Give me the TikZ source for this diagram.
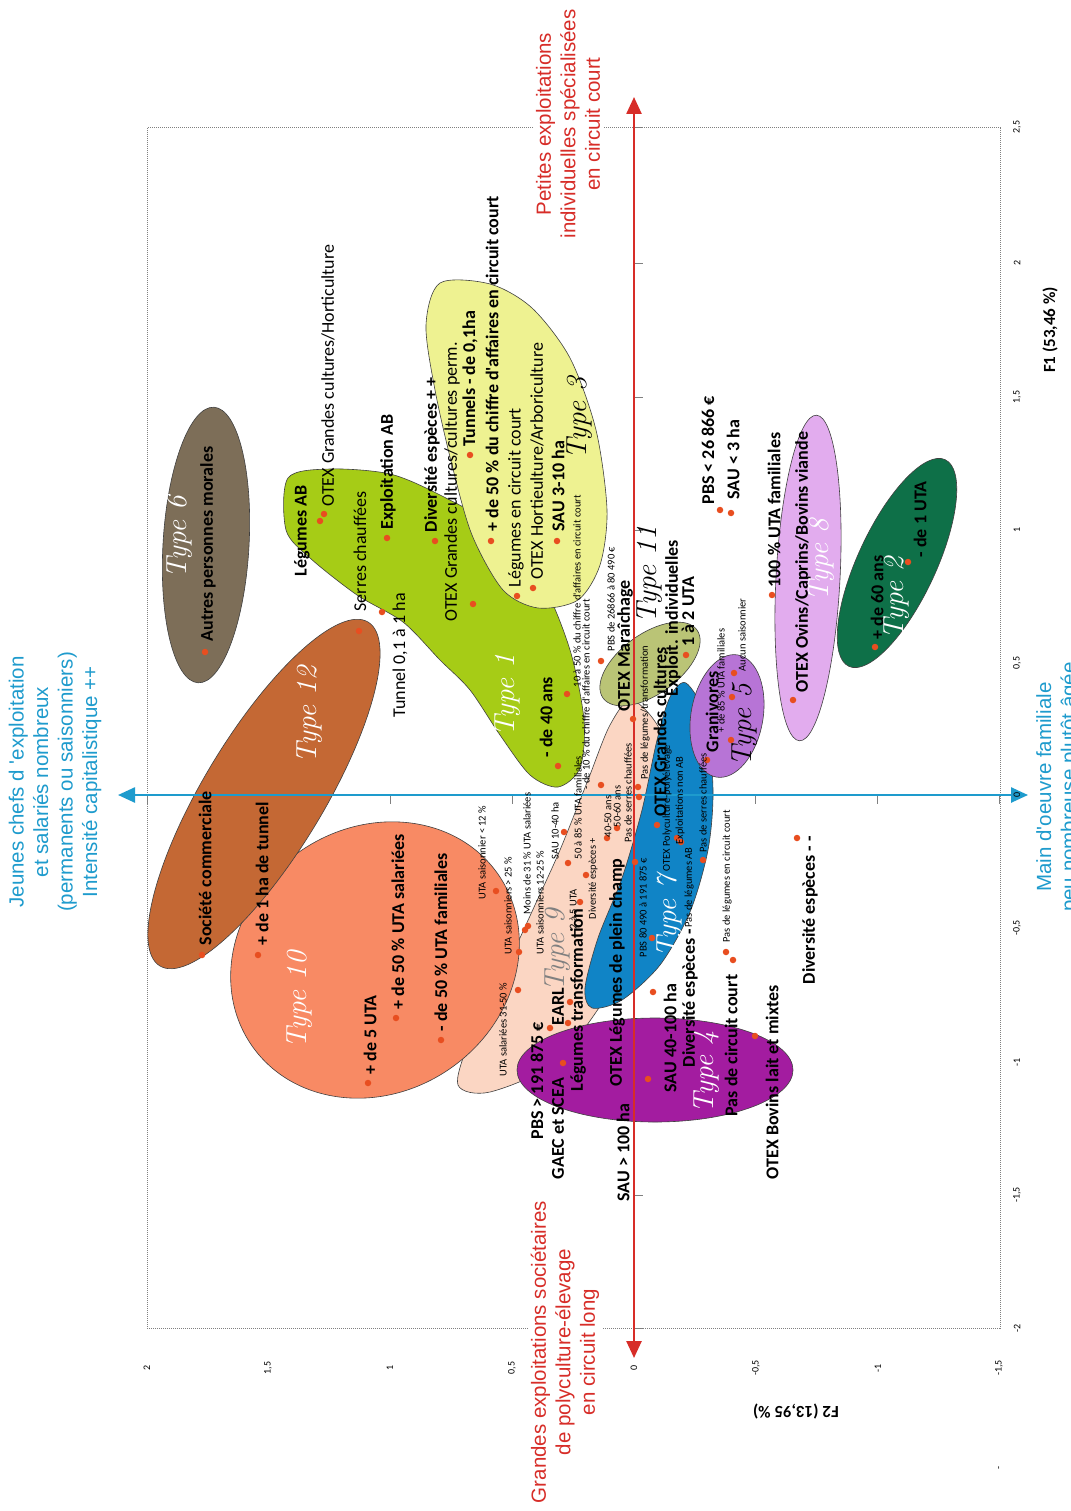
\documentclass[tikz,border=0pt]{standalone}
\usepackage{fontspec}
\usetikzlibrary{arrows.meta}
\newfontfamily\calib{Carlito}
\newfontfamily\arialf{Liberation Sans}
\definecolor{ty6}{RGB}{125,110,88}
\definecolor{ty12}{RGB}{196,104,52}
\definecolor{ty10}{RGB}{248,138,100}
\definecolor{ty9}{RGB}{251,214,195}
\definecolor{ty1}{RGB}{166,204,22}
\definecolor{ty3}{RGB}{238,242,145}
\definecolor{ty11}{RGB}{186,196,118}
\definecolor{ty7}{RGB}{16,132,198}
\definecolor{ty5}{RGB}{183,116,214}
\definecolor{ty4}{RGB}{163,28,160}
\definecolor{ty8}{RGB}{226,172,238}
\definecolor{ty2}{RGB}{14,112,72}
\definecolor{dotred}{RGB}{232,78,32}
\definecolor{axred}{RGB}{215,45,40}
\definecolor{axblue}{RGB}{30,155,205}

\tikzset{
  zone/.style={draw=black!75, line width=0.6pt},
  dotm/.style={circle, fill=dotred, inner sep=0pt, minimum size=6.5pt},
  blab/.style={rotate=90, anchor=west, inner sep=0.5pt, font=\calib\bfseries\fontsize{18}{20}\selectfont},
  rlab/.style={rotate=90, anchor=west, inner sep=0.5pt, font=\calib\fontsize{18}{20}\selectfont},
  slab/.style={rotate=90, anchor=west, inner sep=0.5pt, font=\calib\fontsize{10.5}{12}\selectfont},
  typelab/.style={rotate=90, font=\itshape\fontsize{29}{31}\selectfont},
  note/.style={rotate=90, align=center, fill=white, inner sep=3pt, font=\arialf\fontsize{20.5}{24.5}\selectfont},
  tickl/.style={rotate=90, font=\calib\fontsize{10}{12}\selectfont},
  axtitle/.style={font=\calib\bfseries\fontsize{17}{19}\selectfont},
  axline/.style={line width=2.5pt, arrows={Triangle[length=17pt,width=15pt]-Triangle[length=17pt,width=15pt]}},
}

\begin{document}
\begin{tikzpicture}[x=1pt, y=-1pt]
\useasboundingbox[fill=white] (0,0) rectangle (1070,1511);

% plot area and ticks
\draw[gray, densely dotted, line width=1pt] (147,128) rectangle (1000,1328);
\foreach \xx in {147,268.75,390.5,512.25,755.75,877.5,999.25}
  \draw[gray, line width=0.8pt] (\xx,795) -- (\xx,804);
\foreach \yy in {127,263,397,530,663,928,1062,1195,1328}
  \draw[gray, line width=0.8pt] (634,\yy) -- (643,\yy);

% groups
\draw[zone, fill=ty6, rotate around={86.7:(206,545)}] (206,545) ellipse [x radius=138, y radius=43];
\draw[zone, fill=ty9] plot[smooth cycle] coordinates {(632,700) (662,735) (668,810) (648,900) (610,990) (555,1062) (490,1092) (458,1085) (470,1040) (505,970) (535,905) (560,850) (588,780) (610,725)};
\draw[zone, fill=ty10, rotate around={35:(375,960)}] (375,960) ellipse [x radius=150, y radius=132];
\draw[zone, fill=ty12, rotate around={58.8:(264,794)}] (264,794) ellipse [x radius=201, y radius=60];
\draw[zone, fill=ty1] plot[smooth cycle] coordinates {(288,478) (330,469) (390,474) (440,495) (500,530) (542,582) (570,650) (584,720) (580,768) (558,787) (530,775) (500,735) (470,690) (440,660) (403,622) (357,595) (310,558) (286,530)};
\draw[zone, fill=ty3] plot[smooth cycle] coordinates {(440,283) (490,284) (532,308) (570,358) (596,430) (607,510) (600,565) (578,600) (538,608) (503,590) (472,535) (452,465) (435,390) (426,325)};
\draw[zone, fill=ty7] plot[smooth cycle] coordinates {(686,683) (706,718) (713,790) (708,850) (690,912) (660,965) (622,1000) (592,1008) (585,988) (598,938) (622,878) (642,810) (657,740) (670,697)};
\draw[zone, fill=ty11, rotate around={36:(650,664)}] (650,664) ellipse [x radius=58, y radius=30];
\draw[zone, fill=ty5, rotate around={80:(727,716)}] (727,716) ellipse [x radius=62, y radius=36];
\draw[zone, fill=ty4] (655,1070) ellipse [x radius=138, y radius=52];
\draw[zone, fill=ty8, rotate around={87:(808,578)}] (808,578) ellipse [x radius=163, y radius=32];
\draw[zone, fill=ty2, rotate around={65:(897,563)}] (897,563) ellipse [x radius=114, y radius=39];

% axes
\coordinate (bleft) at (118,795);
\coordinate (bright) at (1028,795);
\coordinate (rtop) at (634,97);
\coordinate (rbot) at (634,1358);
\draw[axline, axblue] (bleft) -- (bright);
\draw[axline, axred] (rbot) -- (rtop);

% modalities
\foreach \p [count=\i] in {(205,652), (202,955), (258,955), (359,631), (368,1083), (396,1018), (441,1040), (320,521), (324,514), (382,612), (387,538), (435,541), (473,604), (558,766), (470,455), (491,541), (517,596), (533,588), (557,541), (567,694), (568,863), (601,661), (633,719), (638,787), (657,825), (686,655), (677,838), (681,842), (703,860), (652,938), (635,862), (726,952), (733,960), (797,838), (496,891), (519,952), (525,930), (528,926), (564,832), (580,902), (586,875), (607,838), (617,828), (601,785), (639,797), (518,990), (570,1002), (568,1023), (550,1028), (563,1063), (648,1079), (653,992), (755,1036), (707,760), (731,740), (732,697), (734,673), (772,595), (793,700), (875,647), (908,562), (720,510), (731,513)}
  \node[dotm] (d\i) at \p {};

% type 6, 12, 10
\node[blab] (autres) at (208,642) {Autres personnes morales};
\node[blab] (societe) at (205,946) {Société commerciale};
\node[blab] (tunnelplus) at (262,946) {+ de 1 ha de tunnel};
\node[blab] (cinquta) at (370,1075) {+ de 5 UTA};
\node[blab] (salplus) at (398,1010) {+ de 50 \% UTA salariées};
\node[blab] (fammoins) at (441,1032) {- de 50 \% UTA familiales};

% type 1
\node[blab] (legab) at (302,577) {Légumes AB};
\node[rlab] (otexhorti) at (328,507) {OTEX Grandes cultures/Horticulture};
\node[rlab] (serres) at (360,612) {Serres chauffées};
\node[rlab] (tunnelun) at (400,718) {Tunnel 0,1 à 1 ha};
\node[blab] (exploitab) at (388,530) {Exploitation AB};
\node[blab] (diverplus) at (432,533) {Diversité espèces + +};
\node[rlab] (otexperm) at (452,622) {OTEX Grandes cultures/cultures perm.};
\node[blab] (quarante) at (546,758) {- de 40 ans};

% type 3
\node[blab] (tunnels) at (470,447) {Tunnels - de 0,1ha};
\node[blab] (caplus) at (492,532) {+ de 50 \% du chiffre d'affaires en circuit court};
\node[rlab] (legcc) at (516,588) {Légumes en circuit court};
\node[rlab] (otexarbo) at (537,580) {OTEX Hortieulture/Arboriculture};
\node[blab] (sautrois) at (558,532) {SAU 3-10 ha};

% centre
\node[slab] (camoyen) at (577,688) {10 à 50 \% du chiffre d'affaires en circuit court};
\node[slab] (camoins) at (586,790) {- de 10 \% du chiffre d'affaires en circuit court};
\node[slab] (famcinq) at (578,860) {50 à 85 \% UTA familiales};
\node[slab] (pbsmoyen) at (611,652) {PBS de 26866 à 80 490 €};
\node[blab] (maraich) at (625,712) {OTEX Maraîchage};
\node[slab] (pastransfo) at (645,780) {Pas de légumes/transformation};
\node[blab] (otexgc) at (660,817) {OTEX Grandes cultures};
\node[blab] (indiv) at (673,697) {Exploit. individuelles};
\node[blab] (undeux) at (688,647) {1 à 2 UTA};
\node[slab] (polyel) at (667,872) {OTEX Polyculture-polyélevage};
\node[slab] (nonab) at (680,845) {Exploitations non AB};
\node[slab] (passerresb) at (703,853) {Pas de serres chauffées};
\node[slab] (paslegab) at (689,928) {Pas de légumes AB};
\node[blab] (divermoins) at (690,1068) {Diversité espèces -};
\node[slab] (pbsgrand) at (643,958) {PBS 80 490 à 191 875 €};
\node[slab] (paslegcc) at (727,943) {Pas de légumes en circuit court};
\node[blab] (divermm) at (810,985) {Diversité espèces - -};
\node[slab] (saisdouze) at (482,900) {UTA saisonnier < 12 \%};
\node[slab] (saisvingt) at (508,955) {UTA saisonniers > 25 \%};
\node[slab] (moinstrente) at (527,915) {Moins de 31 \% UTA salariées};
\node[slab] (saismoyen) at (540,955) {UTA saisonniers 12-25 \%};
\node[slab] (saudix) at (555,860) {SAU 10-40 ha};
\node[slab] (deuxcinq) at (573,930) {2 à 5 UTA};
\node[slab] (diverpetit) at (593,920) {Diversité espèces +};
\node[slab] (ansquarante) at (608,838) {40-50 ans};
\node[slab] (anscinquante) at (617,828) {50-60 ans};
\node[slab] (passerresp) at (628,843) {Pas de serres chauffées};
\node[slab] (salmoyen) at (503,1077) {UTA salariées 31-50 \%};
\node[blab] (pleinchamp) at (617,1087) {OTEX Légumes de plein champ};
\node[blab] (legtransfo) at (578,1092) {Légumes transformation};
\node[blab] (earl) at (558,1026) {EARL};
\node[blab] (pbsplus) at (537,1140) {PBS > 191 875 €};
\node[blab] (gaec) at (558,1180) {GAEC et SCEA};
\node[blab] (saucent) at (623,1202) {SAU > 100 ha};
\node[blab] (saumoyen) at (670,1093) {SAU 40-100 ha};
\node[blab] (pascc) at (731,1117) {Pas de circuit court};
\node[blab] (bovlait) at (772,1180) {OTEX Bovins lait et mixtes};

% type 5, 8, 2
\node[blab] (grani) at (712,753) {Granivores};
\node[slab] (famhuit) at (721,733) {+ de 85 \% UTA familiales};
\node[slab] (aucun) at (742,672) {Aucun saisonnier};
\node[blab] (famcent) at (774,588) {100 \% UTA familiales};
\node[blab] (ovins) at (803,693) {OTEX Ovins/Caprins/Bovins viande};
\node[blab] (soixante) at (877,640) {+ de 60 ans};
\node[blab] (unuta) at (920,558) {- de 1 UTA};
\node[blab] (pbspetit) at (708,505) {PBS < 26 866 €};
\node[blab] (saupetit) at (733,500) {SAU < 3 ha};

% type names
\node[typelab, white] (tsix) at (180,537) {Type 6};
\node[typelab, white] (tdouze) at (310,715) {Type 12};
\node[typelab, white] (tdix) at (300,1000) {Type 10};
\node[typelab, white] (tun) at (508,695) {Type 1};
\node[typelab] (ttrois) at (580,418) {Type 3};
\node[typelab] (tonze) at (650,575) {Type 11};
\node[typelab, gray] (tneuf) at (558,950) {Type 9};
\node[typelab, white] (tsept) at (670,916) {Type 7};
\node[typelab, white] (tquatre) at (707,1072) {Type 4};
\node[typelab] (tcinq) at (745,725) {Type 5};
\node[typelab, white] (thuit) at (822,560) {Type 8};
\node[typelab, white] (tdeux) at (897,598) {Type 2};

% axis labels
\foreach \yy/\v [count=\i] in {127/2{,}5, 263/2, 397/1{,}5, 530/1, 663/0{,}5, 795/0, 928/-0{,}5, 1062/-1, 1195/-1{,}5, 1328/-2}
  \node[tickl] (fone\i) at (1017,\yy) {\v};
\foreach \xx/\v [count=\i] in {147/2, 268/1{,}5, 390/1, 512/0{,}5, 634/0, 756/-0{,}5, 878/-1, 999/-1{,}5}
  \node[tickl] (ftwo\i) at (\xx,1368) {\v};
\node[tickl] (stray) at (1000,1468) {-};
\node[axtitle, rotate=90] (fonetitle) at (1050,330) {F1 (53,46 \%)};
\node[axtitle, rotate=180] (ftwotitle) at (796,1412) {F2 (13,95 \%)};

% reading of the axes
\node[note, text=axred] (petites) at (568,124) {Petites exploitations\\individuelles spécialisées\\en circuit court};
\node[note, text=axred] (grandes) at (565,1352) {Grandes exploitations sociétaires\\de polyculture-élevage\\en circuit long};
\node[note, text=axblue] (jeunes) at (55,782) {Jeunes chefs d 'exploitation\\et salariés nombreux\\(permanents ou saisonniers)\\Intensité capitalistique ++};
\node[note, text=axblue, fill=none] (familiale) at (1058,787) {Main d'oeuvre familiale\\peu nombreuse plutôt âgée};
\end{tikzpicture}
\end{document}
